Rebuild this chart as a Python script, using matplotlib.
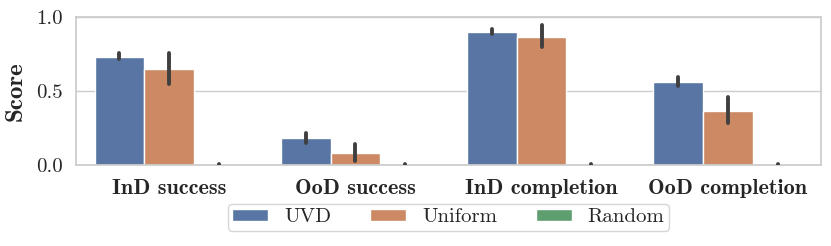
import numpy as np
import matplotlib
matplotlib.use("Agg")
import matplotlib.pyplot as plt
import seaborn as sns

# values
metrics = ["InD success", "OoD success", "InD completion", "OoD completion"]
methods = ["UVD", "Uniform", "Random"]
means = {
    "UVD": [0.728, 0.180, 0.896, 0.559],
    "Uniform": [0.647, 0.079, 0.865, 0.365],
    "Random": [0.0, 0.0, 0.0, 0.0],
}
err_lo = {
    "UVD": [0.714, 0.151, 0.883, 0.534],
    "Uniform": [0.547, 0.027, 0.795, 0.282],
    "Random": [0.0, 0.0, 0.0, 0.0],
}
err_hi = {
    "UVD": [0.755, 0.218, 0.919, 0.593],
    "Uniform": [0.759, 0.142, 0.946, 0.457],
    "Random": [0.004, 0.004, 0.004, 0.004],
}

sns.set_theme(style="whitegrid", palette="deep")
plt.rcParams["font.family"] = ["cmr10", "DejaVu Serif"]
plt.rcParams["axes.formatter.use_mathtext"] = True
colors = [sns.desaturate(c, 0.75) for c in sns.color_palette("deep")]

fig = plt.figure(figsize=(8.31, 2.46), dpi=100)
ax = fig.add_axes([0.0915, 0.329, 0.8965, 0.602])

x = np.arange(len(metrics))
width = 0.8 / len(methods)
for i, m in enumerate(methods):
    pos = x - 0.4 + width * (i + 0.5)
    ax.bar(pos, means[m], width, color=colors[i], edgecolor="white",
           linewidth=1.0, label=m)
    ax.vlines(pos, err_lo[m], err_hi[m], color="#3f3f3f", linewidth=2.8,
              capstyle="round", zorder=3)

ax.set_xlim(-0.5, len(metrics) - 0.5)
ax.set_ylim(0, 1.0)
ax.set_yticks([0.0, 0.5, 1.0])
ax.set_yticklabels(["0.0", "0.5", "1.0"], fontsize=15)
ax.set_xticks(x)
ax.set_xticklabels(metrics, fontsize=16, family="cmb10")
ax.set_ylabel("Score", fontsize=18, family="cmb10", labelpad=7)
ax.grid(axis="x", visible=False)
ax.tick_params(axis="x", pad=4)
for s in ax.spines.values():
    s.set_color("#cccccc")

ax.legend(loc="upper center", bbox_to_anchor=(0.5, -0.265), ncol=3,
          fontsize=15, handlelength=1.72, handleheight=0.5,
          handletextpad=0.78, columnspacing=1.85, borderaxespad=0,
          borderpad=0.2, frameon=True)

fig.savefig("out.png", dpi=100)
